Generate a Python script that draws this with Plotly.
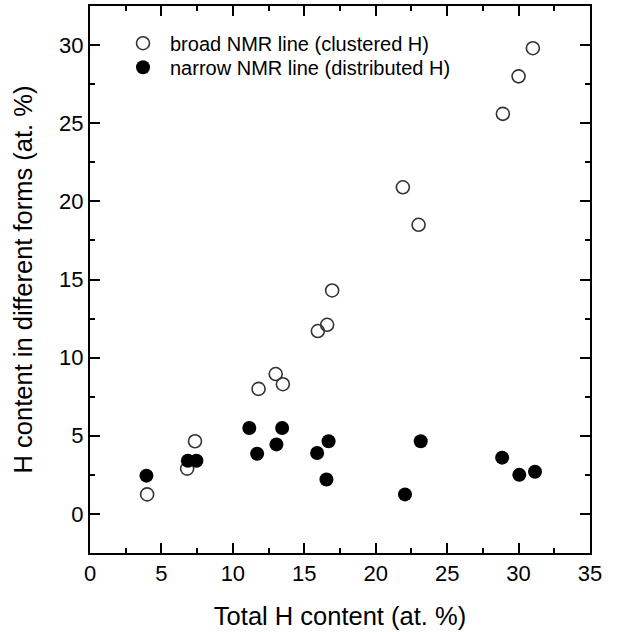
import plotly.graph_objects as go

# Total H content (at. %) for each sample
broad_x = [4.0, 6.8, 7.35, 11.8, 13.0, 13.5, 15.95, 16.6, 16.95, 21.9, 23.0, 28.9, 30.0, 31.0]
# H in clustered form (broad NMR line)
broad_y = [1.25, 2.9, 4.65, 8.0, 8.95, 8.3, 11.7, 12.1, 14.3, 20.9, 18.5, 25.6, 28.0, 29.8]

narrow_x = [3.95, 6.85, 7.45, 11.15, 11.7, 13.05, 13.45, 15.9, 16.7, 16.55, 22.05, 23.15, 28.85, 30.05, 31.15]
# H in distributed form (narrow NMR line)
narrow_y = [2.45, 3.4, 3.4, 5.5, 3.85, 4.45, 5.5, 3.9, 4.65, 2.2, 1.25, 4.65, 3.6, 2.5, 2.7]

font_family = "Liberation Sans, Arial, sans-serif"

fig = go.Figure()
fig.add_trace(go.Scatter(
    x=broad_x, y=broad_y, mode="markers",
    name="broad NMR line (clustered H)",
    marker=dict(symbol="circle-open", size=13, color="#333333", line=dict(width=1.6, color="#333333")),
    legend="legend",
))
fig.add_trace(go.Scatter(
    x=narrow_x, y=narrow_y, mode="markers",
    name="narrow NMR line (distributed H)",
    marker=dict(symbol="circle", size=14, color="black", line=dict(width=0)),
    legend="legend2",
))

axis_common = dict(
    showline=True, linecolor="black", linewidth=2, mirror="ticks",
    ticks="inside", ticklen=10, tickwidth=1.5, tickcolor="black",
    showgrid=False, zeroline=False, automargin=False,
    tickfont=dict(family=font_family, size=22, color="black"),
    minor=dict(ticks="inside", ticklen=5, tickwidth=1.5, tickcolor="black", showgrid=False),
)

fig.update_xaxes(
    range=[0, 35], tick0=0, dtick=5, minor_dtick=2.5,
    title=dict(text="Total H content (at. %)", font=dict(family=font_family, size=25.5, color="black"), standoff=22),
    **axis_common,
)
fig.update_yaxes(
    range=[-2.5, 32.5], tick0=0, dtick=5, minor_dtick=2.5,
    title=dict(text="H content in different forms (at. %)", font=dict(family=font_family, size=25.5, color="black"), standoff=19),
    **axis_common,
)

legend_style = dict(
    x=0.052, xanchor="left", yanchor="middle",
    bgcolor="rgba(0,0,0,0)", borderwidth=0,
    font=dict(family=font_family, size=20, color="black"),
    itemsizing="trace", itemwidth=44, tracegroupgap=0,
)

fig.update_layout(
    width=624, height=632,
    margin=dict(l=90, r=34, t=6, b=79),
    paper_bgcolor="white", plot_bgcolor="white",
    showlegend=True,
    legend=dict(y=0.932, **legend_style),
    legend2=dict(y=0.888, **legend_style),
)

fig.write_html("out.html")
